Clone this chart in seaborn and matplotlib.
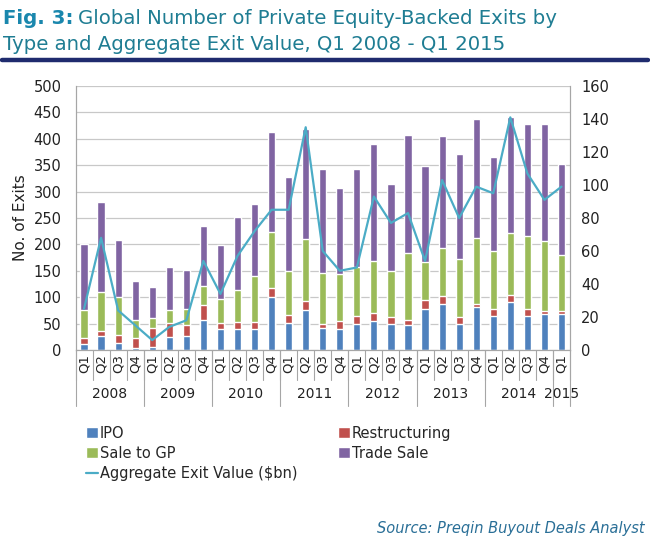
import numpy as np
import pandas as pd
import matplotlib
matplotlib.use('Agg')
import matplotlib.pyplot as plt
import matplotlib.transforms as mtransforms
import seaborn as sns

# quarters Q1 2008 - Q1 2015
years = ['2008', '2009', '2010', '2011', '2012', '2013', '2014', '2015']
quarters = ['Q1', 'Q2', 'Q3', 'Q4'] * 7 + ['Q1']
slots = [q + ' ' + years[i // 4] for i, q in enumerate(quarters)]

# number of exits by type
ipo = [11, 26, 14, 4, 6, 25, 27, 56, 39, 39, 39, 100, 52, 75, 41, 40,
       50, 55, 50, 47, 77, 87, 49, 81, 64, 91, 65, 68, 68]
restructuring = [12, 10, 14, 19, 36, 27, 21, 30, 13, 14, 14, 18, 14, 18, 9, 14,
                 14, 16, 12, 10, 17, 15, 13, 7, 14, 13, 13, 6, 6]
sale_to_gp = [52, 74, 73, 34, 18, 24, 30, 35, 45, 60, 87, 105, 84, 118, 95, 89,
              94, 97, 88, 127, 73, 92, 110, 125, 110, 117, 137, 133, 105]
trade_sale = [125, 170, 108, 73, 60, 81, 74, 113, 102, 138, 137, 189, 178, 208, 198, 163,
              184, 222, 164, 223, 181, 212, 200, 224, 177, 220, 213, 221, 173]
# aggregate exit value ($bn)
exit_value = [25, 68, 24, 15, 6, 14, 18, 54, 34, 57, 72, 85, 85, 135, 60, 48,
              50, 93, 77, 83, 54, 103, 80, 99, 95, 141, 107, 91, 99]

df = pd.DataFrame({'slot': slots, 'IPO': ipo, 'Restructuring': restructuring,
                   'Sale to GP': sale_to_gp, 'Trade Sale': trade_sale,
                   'value': exit_value})
df['lvl1'] = df['IPO']
df['lvl2'] = df['lvl1'] + df['Restructuring']
df['lvl3'] = df['lvl2'] + df['Sale to GP']
df['lvl4'] = df['lvl3'] + df['Trade Sale']
df['pos'] = np.arange(len(df))

c_ipo = '#4f81bd'
c_res = '#c0504d'
c_gp = '#9bbb59'
c_trade = '#8064a2'
c_line = '#4bacc6'
grey = '#a6a6a6'

sns.set_style('white')
plt.rcParams['font.family'] = ['DejaVu Sans']

fig = plt.figure(figsize=(6.5, 5.42), dpi=100)
ax = fig.add_axes([75.5 / 650, 192 / 542, 494.5 / 650, 264 / 542])

# stacked bars, drawn tallest first
bw = 0.42
sns.barplot(data=df, x='slot', y='lvl4', color=c_trade, width=bw, saturation=1, ax=ax, label='Trade Sale')
sns.barplot(data=df, x='slot', y='lvl3', color=c_gp, width=bw, saturation=1, ax=ax, label='Sale to GP')
sns.barplot(data=df, x='slot', y='lvl2', color=c_res, width=bw, saturation=1, ax=ax, label='Restructuring')
sns.barplot(data=df, x='slot', y='lvl1', color=c_ipo, width=bw, saturation=1, ax=ax, label='IPO')

ax.set_xlim(-0.5, len(df) - 0.5)
ax.set_ylim(0, 500)
ax.set_yticks(np.arange(0, 501, 50))
ax.yaxis.grid(True, color='#c8c8c8', lw=0.9)
ax.set_axisbelow(True)
ax.tick_params(axis='y', length=0, labelsize=10.5, pad=10, colors='#222222')
ax.set_ylabel('No. of Exits', fontsize=11, color='#222222', labelpad=4)
ax.set_xlabel('')
ax.set_xticks(df['pos'])
ax.set_xticklabels(quarters, rotation=90, fontsize=9.5, color='#222222')
ax.tick_params(axis='x', length=0, pad=3)
for s in ['left', 'bottom', 'right']:
    ax.spines[s].set_color(grey)
ax.spines['top'].set_visible(False)

# right axis with the exit value line
ax2 = ax.twinx()
sns.lineplot(data=df, x='pos', y='value', color=c_line, lw=1.6, ax=ax2,
             label='Aggregate Exit Value ($bn)')
ax2.set_ylim(0, 160)
ax2.set_yticks(np.arange(0, 161, 20))
ax2.tick_params(axis='y', length=0, labelsize=10.5, pad=8, colors='#222222')
ax2.set_ylabel('')
for s in ['left', 'bottom', 'right']:
    ax2.spines[s].set_color(grey)
ax2.spines['top'].set_visible(False)

# category separators below the axis
trans = mtransforms.blended_transform_factory(ax.transData, ax.transAxes)
px = 1 / 264
for b in np.arange(-0.5, len(df), 1):
    ax.plot([b, b], [0, -30 * px], color=grey, lw=0.8, transform=trans, clip_on=False)
year_bounds = [-0.5, 3.5, 7.5, 11.5, 15.5, 19.5, 23.5, 27.5, 28.5]
for b in year_bounds:
    ax.plot([b, b], [0, -56 * px], color=grey, lw=0.8, transform=trans, clip_on=False)
for i, y in enumerate(years):
    cx = (year_bounds[i] + year_bounds[i + 1]) / 2
    ax.text(cx, -44 * px, y, transform=trans, ha='center', va='center',
            fontsize=10, color='#222222')

# legend
h1, l1 = ax.get_legend_handles_labels()
h2, l2 = ax2.get_legend_handles_labels()
hd = dict(zip(l1 + l2, h1 + h2))
if ax.get_legend() is not None:
    ax.get_legend().remove()
if ax2.get_legend() is not None:
    ax2.get_legend().remove()
order = ['IPO', 'Sale to GP', 'Aggregate Exit Value ($bn)', 'Restructuring', 'Trade Sale']
fig.legend([hd[k] for k in order], order, ncol=2, loc='upper left',
           bbox_to_anchor=(80 / 650, 1 - 420 / 542), frameon=False, fontsize=10.5,
           handlelength=0.8, handleheight=0.8, handletextpad=0.15,
           columnspacing=2.8, labelspacing=0.35, borderaxespad=0)

# title
t1 = fig.text(0.004, 1 - 24 / 542, 'Fig. 3:', fontsize=14.2, fontweight='bold',
              color='#1a87ad', va='baseline')
fig.canvas.draw()
bb = t1.get_window_extent()
fig.text(bb.x1 / 650 + 0.008, 1 - 24 / 542,
         'Global Number of Private Equity-Backed Exits by',
         fontsize=14.2, color='#1f7d93', va='baseline')
fig.text(0.004, 1 - 50 / 542, 'Type and Aggregate Exit Value, Q1 2008 - Q1 2015',
         fontsize=14.2, color='#1f7d93', va='baseline')
fig.add_artist(plt.Line2D([2 / 650, 648 / 650], [1 - 60 / 542, 1 - 60 / 542],
                          color='#1f2b6e', lw=3.2))

fig.text(645 / 650, 1 - 528 / 542, 'Source: Preqin Buyout Deals Analyst',
         fontsize=10.5, style='italic', color='#2a6f97', ha='right', va='center')

fig.savefig('out.png', dpi=100)
